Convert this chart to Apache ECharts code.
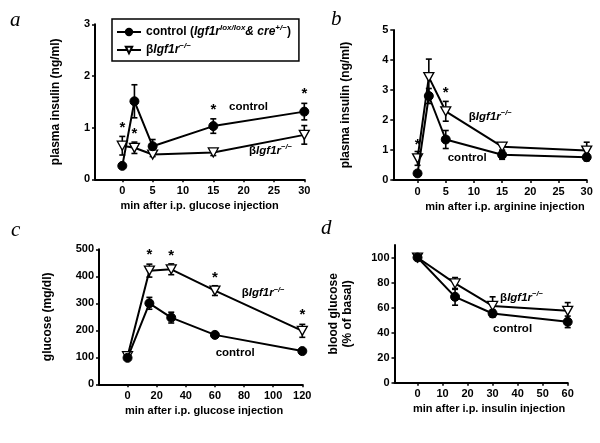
<!DOCTYPE html>
<html><head><meta charset="utf-8">
<script src="https://cdn.jsdelivr.net/npm/echarts@6/dist/echarts.min.js"></script>
<style>html,body{margin:0;padding:0;background:#fff}#c{width:600px;height:443px}</style>
</head><body><div id="c"></div>
<script>
// ---------- data ----------
// Panel a: plasma insulin after i.p. glucose
const timeA = [0, 2, 5, 15, 30];
const ctrlA = [0.26, 1.51, 0.64, 1.03, 1.31];
const ctrlAErr = [0.04, 0.32, 0.13, 0.14, 0.16];
const betaA = [0.65, 0.61, 0.48, 0.52, 0.86];
const betaAErr = [0.18, 0.11, 0.04, 0.06, 0.18];
const starsA = [[0, 1.06], [2, 0.93], [15, 1.41], [30, 1.71]];
const ticksAx = [0, 5, 10, 15, 20, 25, 30];
const ticksAy = [0, 1, 2, 3];

// Panel b: plasma insulin after i.p. arginine
const timeB = [0, 2, 5, 15, 30];
const ctrlB = [0.22, 2.8, 1.35, 0.84, 0.76];
const ctrlBErr = [0.05, 0.25, 0.3, 0.15, 0.12];
const betaB = [0.72, 3.43, 2.29, 1.11, 0.98];
const betaBErr = [0.23, 0.6, 0.33, 0.12, 0.28];
const starsB = [[0, 1.28], [5, 3.02]];
const ticksBx = [0, 5, 10, 15, 20, 25, 30];
const ticksBy = [0, 1, 2, 3, 4, 5];

// Panel c: glucose after i.p. glucose
const timeC = [0, 15, 30, 60, 120];
const ctrlC = [98, 300, 247, 183, 123];
const ctrlCErr = [5, 22, 20, 8, 5];
const betaC = [104, 421, 426, 347, 198];
const betaCErr = [5, 24, 20, 18, 24];
const starsC = [[15, 491], [30, 485], [60, 407], [120, 269]];
const ticksCx = [0, 20, 40, 60, 80, 100, 120];
const ticksCy = [0, 100, 200, 300, 400, 500];

// Panel d: blood glucose (% basal) after i.p. insulin
const timeD = [0, 15, 30, 60];
const ctrlD = [100, 68.6, 55.3, 48.6];
const ctrlDErr = [0, 6.7, 3, 4.6];
const betaD = [100, 79.3, 61.3, 57.4];
const betaDErr = [0, 4.7, 7.3, 6.6];
const starsD = [];
const ticksDx = [0, 10, 20, 30, 40, 50, 60];
const ticksDy = [0, 20, 40, 60, 80, 100];

// series label anchors (data coords)
const labelsA = [[17.6, 1.405, 'control'], [20.9, 0.55, 'beta']];
const labelsB = [[5.35, 0.75, 'control'], [9.1, 2.11, 'beta']];
const labelsC = [[60.5, 115, 'control'], [78.4, 337, 'beta']];
const labelsD = [[30.2, 43.4, 'control'], [33, 67.8, 'beta']];

// ---------- chart ----------
const FONT = 'Liberation Sans, Arial, sans-serif';
const richLbl = {
  n: {fontFamily: FONT, fontWeight: 'bold', fontSize: 11.5, lineHeight: 15},
  i: {fontFamily: FONT, fontWeight: 'bold', fontStyle: 'italic', fontSize: 11.5, lineHeight: 15},
  s: {fontFamily: FONT, fontWeight: 'bold', fontStyle: 'italic', fontSize: 7.5, lineHeight: 8, verticalAlign: 'top'}
};
const betaTxt = '{n|β}{i|Igf1r}{s|−/−}';

const grids = [
  {left: 95, right: 295.7, top: 24.3, bottom: 263.7},
  {left: 393.3, right: 13.3, top: 30, bottom: 263},
  {left: 99, right: 297.7, top: 249.3, bottom: 58.7},
  {left: 394.5, right: 32.3, top: 245, bottom: 60.3}
];
const xCfg = [
  {min: -4.5, max: 30, ticks: ticksAx, name: 'min after i.p. glucose injection', pad: 0},
  {min: -4.3, max: 30, ticks: ticksBx, name: 'min after i.p. arginine injection', pad: 30},
  {min: -19.6, max: 120, ticks: ticksCx, name: 'min after i.p. glucose injection', pad: 7},
  {min: -9.2, max: 60, ticks: ticksDx, name: 'min after i.p. insulin injection', pad: 16}
];
const yCfg = [
  {min: 0, max: 3, ticks: ticksAy, name: 'plasma insulin (ng/ml)', gap: 32},
  {min: 0, max: 5, ticks: ticksBy, name: 'plasma insulin (ng/ml)', gap: 41},
  {min: 0, max: 500, ticks: ticksCy, name: 'glucose (mg/dl)', gap: 44},
  {min: 0, max: 110, ticks: ticksDy, name: 'blood glucose\n(% of basal)', gap: 40}
];

const axisLine = {show: true, onZero: false, lineStyle: {color: '#000', width: 2}};
const labelStyle = {color: '#000', fontFamily: FONT, fontWeight: 'bold', fontSize: 11};

const xAxis = xCfg.map((c, i) => ({
  type: 'value', gridIndex: i, min: c.min, max: c.max,
  axisLine, splitLine: {show: false},
  axisTick: {show: true, customValues: c.ticks, length: 3, lineStyle: {color: '#000', width: 1.5}},
  axisLabel: Object.assign({customValues: c.ticks, margin: 6}, labelStyle),
  name: c.name, nameLocation: 'middle', nameGap: 21,
  nameTextStyle: {color: '#000', fontFamily: FONT, fontWeight: 'bold', fontSize: 11, padding: [0, 0, 0, c.pad]}
}));
const yAxis = yCfg.map((c, i) => ({
  type: 'value', gridIndex: i, min: c.min, max: c.max,
  axisLine, splitLine: {show: false},
  axisTick: {show: true, customValues: c.ticks, length: 3, lineStyle: {color: '#000', width: 1.5}},
  axisLabel: Object.assign({customValues: c.ticks, margin: 5}, labelStyle),
  name: c.name, nameLocation: 'middle', nameGap: c.gap,
  nameTextStyle: {color: '#000', fontFamily: FONT, fontWeight: 'bold', fontSize: 12, lineHeight: 14}
}));

function errRender(params, api) {
  const x = api.value(0), y = api.value(1), e = api.value(2);
  if (!e) return null;
  const t = api.coord([x, y + e]), b = api.coord([x, y - e]);
  const w = 3;
  const st = {stroke: '#000', lineWidth: 1.6};
  return {type: 'group', children: [
    {type: 'line', shape: {x1: t[0], y1: t[1], x2: b[0], y2: b[1]}, style: st},
    {type: 'line', shape: {x1: t[0] - w, y1: t[1], x2: t[0] + w, y2: t[1]}, style: st},
    {type: 'line', shape: {x1: b[0] - w, y1: b[1], x2: b[0] + w, y2: b[1]}, style: st}
  ]};
}
function starRender(params, api) {
  const p = api.coord([api.value(0), api.value(1)]);
  return {type: 'text', x: p[0], y: p[1] + 3, style: {text: '*', fill: '#000', font: 'bold 15px ' + FONT, align: 'center', verticalAlign: 'middle'}};
}
function lblRender(params, api) {
  const p = api.coord([api.value(0), api.value(1)]);
  const kind = labelsAll[params.seriesIndex][params.dataIndex][2];
  return {type: 'text', x: p[0], y: p[1], style: {
    text: kind === 'control' ? '{n|control}' : betaTxt, rich: richLbl, fill: '#000',
    align: 'left', verticalAlign: 'middle'}};
}

const panels = [
  [timeA, ctrlA, ctrlAErr, betaA, betaAErr, starsA, labelsA],
  [timeB, ctrlB, ctrlBErr, betaB, betaBErr, starsB, labelsB],
  [timeC, ctrlC, ctrlCErr, betaC, betaCErr, starsC, labelsC],
  [timeD, ctrlD, ctrlDErr, betaD, betaDErr, starsD, labelsD]
];
const series = [];
const labelsAll = {};
panels.forEach((p, i) => {
  const [t, c, ce, b, be, st, lb] = p;
  const ax = {xAxisIndex: i, yAxisIndex: i};
  series.push(Object.assign({type: 'custom', renderItem: errRender, clip: false, z: 1, silent: true,
    data: t.map((x, k) => [x, c[k], ce[k]])}, ax));
  series.push(Object.assign({type: 'custom', renderItem: errRender, clip: false, z: 1, silent: true,
    data: t.map((x, k) => [x, b[k], be[k]])}, ax));
  series.push(Object.assign({name: 'control', type: 'line', z: 3, data: t.map((x, k) => [x, c[k]]),
    symbol: 'circle', symbolSize: 9, showAllSymbol: true,
    lineStyle: {color: '#000', width: 2}, itemStyle: {color: '#000', borderColor: '#000', borderWidth: 1}}, ax));
  series.push(Object.assign({name: 'beta', type: 'line', z: 2, data: t.map((x, k) => [x, b[k]]),
    symbol: 'triangle', symbolSize: [10, 9], symbolRotate: 180, showAllSymbol: true,
    lineStyle: {color: '#000', width: 2}, itemStyle: {color: '#fff', borderColor: '#000', borderWidth: 1.3}}, ax));
  if (st.length) series.push(Object.assign({type: 'custom', renderItem: starRender, clip: false, z: 4, silent: true, data: st}, ax));
  labelsAll[series.length] = lb;
  series.push(Object.assign({type: 'custom', renderItem: lblRender, clip: false, z: 4, silent: true,
    data: lb.map(l => [l[0], l[1]])}, ax));
});

const letterStyle = {fill: '#000', font: 'italic 21px Liberation Serif, serif'};
const option = {
  animation: false,
  backgroundColor: '#fff',
  grid: grids,
  xAxis, yAxis, series,
  legend: {
    data: ['control', 'beta'], orient: 'vertical', left: 112, top: 19,
    padding: [5, 8, 5, 4], itemGap: 4, itemWidth: 24, itemHeight: 8,
    borderColor: '#000', borderWidth: 1.5, borderRadius: 0,
    selectedMode: false,
    formatter: name => name === 'control'
      ? '{n|control (}{i|Igf1r}{s|lox/lox}{i|& cre}{s|+/−}{n|)}'
      : betaTxt,
    textStyle: {color: '#000', rich: {
      n: {fontFamily: FONT, fontWeight: 'bold', fontSize: 12, lineHeight: 16},
      i: {fontFamily: FONT, fontWeight: 'bold', fontStyle: 'italic', fontSize: 12, lineHeight: 16},
      s: {fontFamily: FONT, fontWeight: 'bold', fontStyle: 'italic', fontSize: 8, lineHeight: 9, verticalAlign: 'top'}
    }}
  },
  graphic: [
    {type: 'text', left: 10, top: 10, style: Object.assign({text: 'a'}, letterStyle)},
    {type: 'text', left: 331, top: 9, style: Object.assign({text: 'b'}, letterStyle)},
    {type: 'text', left: 11, top: 220, style: Object.assign({text: 'c'}, letterStyle)},
    {type: 'text', left: 321, top: 218, style: Object.assign({text: 'd'}, letterStyle)}
  ]
};
const chart = echarts.init(document.getElementById('c'), null, {renderer: 'canvas'});
chart.setOption(option);
</script></body></html>
